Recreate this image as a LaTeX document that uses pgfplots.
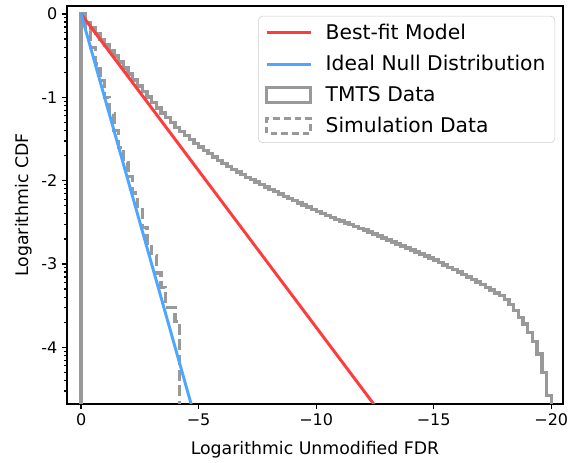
\documentclass[border=0pt]{standalone}
\usepackage{pgfplots}
\pgfplotsset{compat=1.18}
\usepackage{fontspec}
\setmainfont{DejaVu Sans}
\definecolor{fitred}{HTML}{FF3B3B}
\definecolor{nullblue}{HTML}{4DA6FF}
\definecolor{histgray}{HTML}{999999}
\pgfplotsset{
  mylinelegend/.style={legend image code/.code={\draw[##1] (0pt,0pt) -- (33pt,0pt);}},
  myboxlegend/.style={legend image code/.code={\draw[##1, sharp corners] (0pt,-5.5pt) rectangle (33pt,5.5pt);}},
}
\begin{document}
\begin{tikzpicture}
\begin{axis}[
  scale only axis, width=372pt, height=298.5pt,
  x dir=reverse, xmin=-20.5, xmax=0.6, ymin=-4.68, ymax=0.096,
  xtick={0,-5,-10,-15,-20}, xticklabels={0,−5,−10,−15,−20},
  ytick={0,-1,-2,-3,-4}, yticklabels={0,-1,-2,-3,-4},
  minor ytick={-0.046,-0.097,-0.155,-0.222,-0.301,-0.398,-0.523,-0.699,
    -1.046,-1.097,-1.155,-1.222,-1.301,-1.398,-1.523,-1.699,
    -2.046,-2.097,-2.155,-2.222,-2.301,-2.398,-2.523,-2.699,
    -3.046,-3.097,-3.155,-3.222,-3.301,-3.398,-3.523,-3.699,
    -4.046,-4.097,-4.155,-4.222,-4.301,-4.398,-4.523},
  tick align=outside, xtick pos=bottom, ytick pos=left,
  major tick length=3.75pt, minor tick length=2pt,
  every tick/.style={black, line width=0.9pt},
  axis line style={line width=1.2pt},
  tick label style={font=\fontsize{12}{14}\selectfont},
  label style={font=\fontsize{13}{15}\selectfont},
  xlabel={Logarithmic Unmodified FDR},
  xlabel style={yshift=-5pt},
  ylabel={Logarithmic CDF},
  legend style={at={(rel axis cs:0.984,0.975)}, anchor=north east,
    draw=black!20, rounded corners=3pt, fill=white, fill opacity=0.8, text opacity=1,
    font=\fontsize{15.2}{18}\selectfont, row sep=6.3pt, column sep=8pt,
    inner xsep=5pt, inner ysep=4pt},
  legend cell align=left,
]
% TMTS data (cumulative step histogram)
\addplot[const plot, histgray, line width=2.5pt, forget plot] table {
0 -10
0 0
-0.2 -0.101
-0.4 -0.169
-0.6 -0.236
-0.8 -0.304
-1.0 -0.371
-1.2 -0.439
-1.4 -0.506
-1.6 -0.575
-1.8 -0.648
-2.0 -0.721
-2.2 -0.793
-2.4 -0.866
-2.6 -0.933
-2.8 -0.998
-3.0 -1.064
-3.2 -1.130
-3.4 -1.190
-3.6 -1.246
-3.8 -1.302
-4.0 -1.359
-4.2 -1.411
-4.4 -1.458
-4.6 -1.505
-4.8 -1.552
-5.0 -1.598
-5.2 -1.638
-5.4 -1.678
-5.6 -1.718
-5.8 -1.758
-6.0 -1.793
-6.2 -1.828
-6.4 -1.863
-6.6 -1.898
-6.8 -1.929
-7.0 -1.959
-7.2 -1.988
-7.4 -2.017
-7.6 -2.046
-7.8 -2.075
-8.0 -2.103
-8.2 -2.131
-8.4 -2.160
-8.6 -2.188
-8.8 -2.216
-9.0 -2.242
-9.2 -2.267
-9.4 -2.293
-9.6 -2.318
-9.8 -2.344
-10.0 -2.369
-10.2 -2.395
-10.4 -2.420
-10.6 -2.442
-10.8 -2.463
-11.0 -2.485
-11.2 -2.507
-11.4 -2.528
-11.6 -2.550
-11.8 -2.572
-12.0 -2.593
-12.2 -2.617
-12.4 -2.641
-12.6 -2.665
-12.8 -2.689
-13.0 -2.713
-13.2 -2.737
-13.4 -2.761
-13.6 -2.785
-13.8 -2.808
-14.0 -2.832
-14.2 -2.856
-14.4 -2.880
-14.6 -2.904
-14.8 -2.928
-15.0 -2.954
-15.2 -2.983
-15.4 -3.011
-15.6 -3.040
-15.8 -3.069
-16.0 -3.097
-16.2 -3.126
-16.4 -3.155
-16.6 -3.185
-16.8 -3.215
-17.0 -3.247
-17.2 -3.281
-17.4 -3.314
-17.6 -3.348
-17.8 -3.380
-18.0 -3.430
-18.2 -3.490
-18.4 -3.560
-18.6 -3.640
-18.8 -3.720
-19.0 -3.820
-19.2 -3.930
-19.4 -4.080
-19.6 -4.300
-19.8 -4.580
-20.0 -10
};
% Simulation data
\addplot[const plot, histgray, line width=2.5pt, dash pattern=on 8pt off 3.5pt, forget plot] table {
0 -10
0 0
-0.2 -0.2
-0.4 -0.4
-0.6 -0.6
-0.8 -0.8
-1.0 -1.0
-1.2 -1.2
-1.4 -1.4
-1.6 -1.6
-1.8 -1.78
-2.0 -1.95
-2.2 -2.15
-2.4 -2.35
-2.6 -2.56
-2.8 -2.75
-3.0 -2.90
-3.2 -3.11
-3.4 -3.28
-3.6 -3.52
-3.8 -3.52
-4.0 -3.69
-4.2 -10
};
\addplot[fitred, line width=2.2pt, mylinelegend] coordinates {(0,0) (-13,-4.888)};
\addlegendentry{Best-fit Model}
\addplot[nullblue, line width=2.2pt, mylinelegend] coordinates {(0,0) (-5,-5)};
\addlegendentry{Ideal Null Distribution}
\addlegendimage{histgray, line width=2.5pt, myboxlegend}
\addlegendentry{TMTS Data}
\addlegendimage{histgray, line width=2.5pt, dash pattern=on 5pt off 3pt, myboxlegend}
\addlegendentry{Simulation Data}
\end{axis}
\path ([shift={(-50.25pt,-43.5pt)}]current axis.south west) rectangle ([shift={(17.25pt,4.5pt)}]current axis.north east);
\end{tikzpicture}
\end{document}
